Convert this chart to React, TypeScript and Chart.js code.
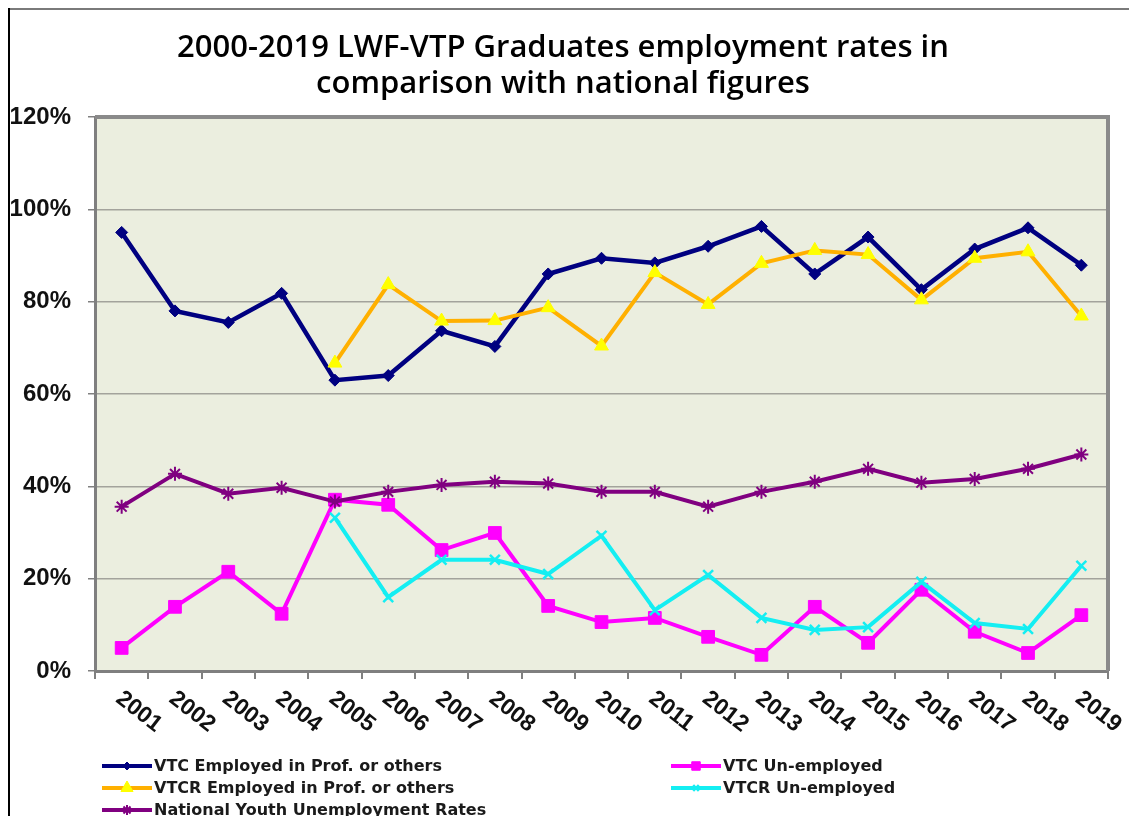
import React, { useEffect, useRef } from 'react';
import { Chart, registerables } from 'chart.js';
import { drawPoint } from 'chart.js/helpers';

Chart.register(...registerables);

const TITLE_LINES = [
  '2000-2019 LWF-VTP Graduates employment rates in',
  'comparison with national figures',
];
const YEARS = ['2001', '2002', '2003', '2004', '2005', '2006', '2007', '2008', '2009', '2010', '2011', '2012', '2013', '2014', '2015', '2016', '2017', '2018', '2019'];
const VTC_EMPLOYED = [95, 78, 75.5, 81.8, 63, 64, 73.7, 70.3, 86, 89.4, 88.4, 92, 96.3, 86, 94, 82.6, 91.4, 96, 87.9];
const VTC_UNEMPLOYED = [5, 13.9, 21.5, 12.4, 37.1, 36, 26.2, 29.9, 14.1, 10.6, 11.5, 7.4, 3.5, 13.9, 6.1, 17.6, 8.5, 3.9, 12.1];
const VTCR_EMPLOYED = [null, null, null, null, 66.7, 83.7, 75.8, 75.9, 78.7, 70.4, 86.3, 79.4, 88.3, 91.1, 90.2, 80.4, 89.4, 90.8, 76.9];
const VTCR_UNEMPLOYED = [null, null, null, null, 33.2, 16, 24.1, 24.1, 21, 29.3, 13.2, 20.8, 11.5, 8.9, 9.5, 19.3, 10.4, 9.1, 22.8];
const NATIONAL_YOUTH = [35.6, 42.7, 38.4, 39.7, 36.7, 38.8, 40.3, 41, 40.6, 38.8, 38.8, 35.6, 38.8, 41, 43.8, 40.8, 41.6, 43.8, 46.9];
const SERIES_NAMES = [
  'VTC Employed in Prof. or others',
  'VTC Un-employed',
  'VTCR Employed in Prof. or others',
  'VTCR Un-employed',
  'National Youth Unemployment Rates',
];
const Y_MIN = 0;
const Y_MAX = 120;
const Y_STEP = 20;

const LABEL_FONT = "bold 23px 'Liberation Sans', Arial, sans-serif";

const framePlugin = {
  id: 'framePlugin',
  beforeDraw(chart: any) {
    const { ctx, chartArea } = chart;
    ctx.save();
    ctx.fillStyle = '#EBEEDF';
    ctx.fillRect(chartArea.left, chartArea.top, chartArea.right - chartArea.left, chartArea.bottom - chartArea.top);
    ctx.restore();
  },
  beforeDatasetsDraw(chart: any) {
    const { ctx, chartArea } = chart;
    ctx.save();
    ctx.strokeStyle = '#8a8a8a';
    ctx.lineWidth = 4;
    ctx.beginPath();
    ctx.moveTo(chartArea.left, chartArea.top);
    ctx.lineTo(chartArea.right, chartArea.top);
    ctx.lineTo(chartArea.right, chartArea.bottom);
    ctx.stroke();
    ctx.restore();
  },
  afterDraw(chart: any) {
    const { ctx, width, height } = chart;
    ctx.save();
    ctx.fillStyle = '#7a7a7a';
    ctx.fillRect(0, 0, width, 2);
    ctx.fillStyle = '#000000';
    ctx.fillRect(0, 0, 2, height);

    ctx.fillStyle = '#000000';
    ctx.font = "600 31px 'Open Sans', 'Noto Sans', sans-serif";
    ctx.textAlign = 'center';
    ctx.textBaseline = 'alphabetic';
    TITLE_LINES.forEach((line, i) => {
      ctx.fillText(line, 555, 49 + i * 36);
    });

    const xs = chart.scales.x;
    ctx.font = LABEL_FONT;
    ctx.fillStyle = '#111111';
    ctx.textAlign = 'left';
    ctx.textBaseline = 'top';
    YEARS.forEach((lab, i) => {
      const x = xs.getPixelForTick(i);
      ctx.save();
      ctx.translate(x + 4, xs.top + 16);
      ctx.rotate((38 * Math.PI) / 180);
      ctx.fillText(lab, 0, 0);
      ctx.restore();
    });

    ctx.font = "bold 16px 'DejaVu Sans', sans-serif";
    ctx.textBaseline = 'middle';
    const cols = [94, 663];
    const rows = [758, 780, 802];
    chart.data.datasets.forEach((ds: any, i: number) => {
      const cx = cols[i % 2];
      const cy = rows[Math.floor(i / 2)];
      ctx.strokeStyle = ds.borderColor;
      ctx.lineWidth = 4;
      ctx.beginPath();
      ctx.moveTo(cx, cy);
      ctx.lineTo(cx + 50, cy);
      ctx.stroke();
      ctx.fillStyle = ds.pointBackgroundColor;
      ctx.strokeStyle = ds.pointBorderColor;
      ctx.lineWidth = ds.pointBorderWidth;
      drawPoint(ctx, {
        pointStyle: ds.pointStyle,
        rotation: 0,
        radius: ds.legendRadius,
        borderWidth: ds.pointBorderWidth,
      } as any, cx + 25, cy);
      ctx.fillStyle = '#1a1a1a';
      ctx.textAlign = 'left';
      ctx.fillText(SERIES_NAMES[i], cx + 52, cy + 1);
    });
    ctx.restore();
  },
};

export default function App() {
  const ref = useRef<HTMLCanvasElement | null>(null);
  useEffect(() => {
    if (!ref.current) return;
    const chart = new Chart(ref.current, {
      type: 'line',
      data: {
        labels: YEARS,
        datasets: [
          {
            label: SERIES_NAMES[0],
            data: VTC_EMPLOYED,
            borderColor: '#000080',
            borderWidth: 4.5,
            pointStyle: 'rectRot',
            pointRadius: 6,
            pointBackgroundColor: '#000080',
            pointBorderColor: '#000080',
            pointBorderWidth: 1,
            legendRadius: 4,
            order: 0,
          } as any,
          {
            label: SERIES_NAMES[1],
            data: VTC_UNEMPLOYED,
            borderColor: '#FF00FF',
            borderWidth: 4,
            pointStyle: 'rect',
            pointRadius: 9,
            pointBackgroundColor: '#FF00FF',
            pointBorderColor: '#FF00FF',
            pointBorderWidth: 1,
            legendRadius: 6,
            order: -1,
          } as any,
          {
            label: SERIES_NAMES[2],
            data: VTCR_EMPLOYED,
            borderColor: '#FFB000',
            borderWidth: 4,
            pointStyle: 'triangle',
            pointRadius: 8,
            pointBackgroundColor: '#FFFF00',
            pointBorderColor: '#FFFF00',
            pointBorderWidth: 1,
            legendRadius: 7,
            order: -2,
          } as any,
          {
            label: SERIES_NAMES[3],
            data: VTCR_UNEMPLOYED,
            borderColor: '#14EEF2',
            borderWidth: 4,
            pointStyle: 'crossRot',
            pointRadius: 7,
            pointBackgroundColor: '#14EEF2',
            pointBorderColor: '#14EEF2',
            pointBorderWidth: 2.5,
            legendRadius: 4,
            order: -3,
          } as any,
          {
            label: SERIES_NAMES[4],
            data: NATIONAL_YOUTH,
            borderColor: '#800080',
            borderWidth: 4,
            pointStyle: 'star',
            pointRadius: 7,
            pointBackgroundColor: '#800080',
            pointBorderColor: '#800080',
            pointBorderWidth: 2,
            legendRadius: 5,
            order: -4,
          } as any,
        ],
      },
      options: {
        responsive: false,
        animation: false,
        layout: { padding: { top: 109, right: 29, bottom: 0, left: 0 } },
        plugins: {
          legend: { display: false },
          title: { display: false },
          tooltip: { enabled: false },
        },
        elements: { line: { tension: 0 } },
        scales: {
          x: {
            type: 'category',
            offset: true,
            afterFit: (s: any) => { s.height = 145; },
            ticks: { display: false, autoSkip: false },
            grid: {
              offset: true,
              drawOnChartArea: false,
              drawTicks: true,
              tickLength: 8,
              tickColor: '#808080',
              lineWidth: 2,
            },
            border: { display: true, color: '#7f7f7f', width: 3 },
          },
          y: {
            min: Y_MIN,
            max: Y_MAX,
            afterFit: (s: any) => { s.width = 87; },
            ticks: {
              stepSize: Y_STEP,
              padding: 17,
              color: '#111111',
              font: { family: "'Liberation Sans', Arial, sans-serif", size: 24, weight: 'bold' },
              callback: (v: any) => `${v}%`,
            },
            grid: {
              color: '#a3a39c',
              lineWidth: 1.5,
              drawTicks: true,
              tickLength: 7,
              tickColor: '#808080',
            },
            border: { display: true, color: '#7f7f7f', width: 3 },
          },
        },
      } as any,
      plugins: [framePlugin],
    });
    return () => chart.destroy();
  }, []);
  return (
    <div style={{ width: 1129, height: 808 }}>
      <canvas ref={ref} width={1129} height={808} style={{ display: 'block' }} />
    </div>
  );
}
